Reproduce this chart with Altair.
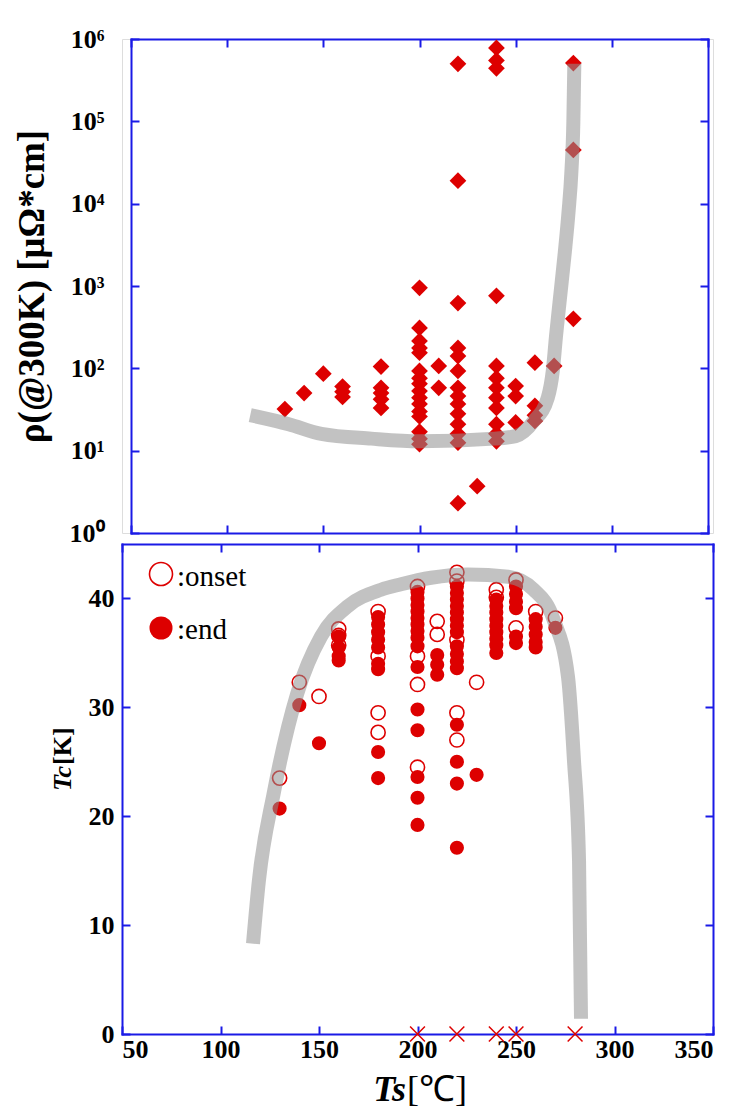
import altair as alt
import pandas as pd

RED = "#dd0000"
BLUE = "#1a1ae6"
SERIF = "Liberation Serif"

# --- resistivity at 300 K versus substrate temperature ---------------------
rho_ts = [130, 140, 150,
          160, 160, 160,
          180, 180, 180, 180, 180,
          200, 200, 200, 200, 200, 200, 200, 200, 200, 200, 200, 200, 200, 200, 200, 200,
          210, 210,
          220, 220, 220, 220, 220, 220, 220, 220, 220, 220, 220, 220, 220, 220,
          230,
          240, 240, 240, 240, 240, 240, 240, 240, 240, 240, 240, 240,
          250, 250, 250,
          260, 260, 260, 260,
          270,
          280, 280, 280]
rho_val = [32, 50, 86,
           60, 52, 45,
           105, 58, 50, 42, 33,
           950, 310, 215, 177, 155, 93, 76, 65, 53, 44, 37, 30, 26, 17, 14, 12,
           107, 58,
           500000, 19000, 620, 177, 141, 93, 58, 46, 37, 28, 21, 16, 12.5, 2.3,
           3.7,
           780000, 550000, 440000, 760, 107, 76, 58, 44, 33, 21, 16, 13,
           61, 46, 22,
           117, 35, 27, 23,
           107,
           510000, 45000, 400]

# guide-to-the-eye trend for the resistivity
rho_curve_ts = [112, 132, 149, 175, 200, 239, 250, 259.5, 266.7, 269.3, 271,
                273, 275.5, 277.5, 279, 280, 280.5]
rho_curve_val = [27, 21, 16, 14, 13, 14, 15, 23, 44, 93, 250,
                 700, 2500, 8000, 25000, 100000, 500000]

# --- superconducting transition temperatures --------------------------------
onset_ts = [130, 140, 150, 160, 160, 160, 180, 180, 180, 180,
            200, 200, 200, 200, 210, 210, 220, 220, 220, 220, 220,
            230, 240, 240, 250, 250, 260, 270]
onset_tc = [23.5, 32.3, 31.0, 37.2, 36.6, 35.7, 38.8, 34.7, 29.5, 27.7,
            41.1, 34.7, 32.1, 24.5, 37.9, 36.7, 42.4, 41.6, 36.2, 29.5, 27.0,
            32.3, 40.8, 40.1, 41.7, 37.3, 38.8, 38.2]

end_ts = [130, 140, 150,
          160, 160, 160, 160,
          180, 180, 180, 180, 180, 180, 180, 180, 180,
          200, 200, 200, 200, 200, 200, 200, 200, 200, 200, 200, 200, 200, 200, 200,
          210, 210, 210,
          220, 220, 220, 220, 220, 220, 220, 220, 220, 220, 220, 220, 220, 220, 220, 220,
          230,
          240, 240, 240, 240, 240, 240, 240, 240, 240,
          250, 250, 250, 250, 250, 250,
          260, 260, 260, 260, 260,
          270]
end_tc = [20.7, 30.2, 26.7,
          36.5, 35.5, 34.7, 34.3,
          38.3, 37.6, 36.9, 36.2, 35.5, 34.0, 33.5, 25.9, 23.5,
          40.6, 40.0, 39.4, 38.8, 38.2, 37.6, 37.0, 36.4, 35.6, 33.7, 29.8, 27.9, 23.6, 21.7, 19.2,
          34.8, 33.9, 33.0,
          41.1, 40.5, 39.9, 39.3, 38.7, 38.1, 37.5, 36.9, 35.6, 34.9, 34.2, 33.6, 28.4, 25.0, 23.0, 17.1,
          23.8,
          39.9, 39.3, 38.7, 38.1, 37.5, 36.9, 36.3, 35.7, 35.0,
          41.1, 40.4, 39.7, 39.1, 36.5, 35.9,
          38.1, 37.4, 36.7, 36.0, 35.5,
          37.3]

# films without a superconducting transition
none_ts = [200, 220, 240, 250, 280]
none_tc = [0, 0, 0, 0, 0]

tc_curve_ts = [116.5, 119.5, 127, 139, 151, 164.7, 181.5, 191.6, 206.9, 225.6,
               246, 259, 269, 276.4, 279.4, 282, 283]
tc_curve = [8.3, 14.1, 22.1, 31.3, 36.5, 39.3, 40.8, 41.3, 41.9, 42.2,
            42.0, 40.8, 38.1, 32.8, 25.2, 15.9, 1.4]

ts_ticks = [50, 100, 150, 200, 250, 300, 350]
rho_ticks = [1, 10, 100, 1000, 10000, 100000, 1000000]
tc_ticks = [0, 10, 20, 30, 40]

rho_df = pd.DataFrame({"Ts": rho_ts, "rho": rho_val})
rho_curve_df = pd.DataFrame({"Ts": rho_curve_ts, "rho": rho_curve_val})
onset_df = pd.DataFrame({"Ts": onset_ts, "Tc": onset_tc})
end_df = pd.DataFrame({"Ts": end_ts, "Tc": end_tc})
none_df = pd.DataFrame({"Ts": none_ts, "Tc": none_tc})
tc_curve_df = pd.DataFrame({"Ts": tc_curve_ts, "Tc": tc_curve})
one = pd.DataFrame({"k": [0]})

W = 591
H_TOP = 494
H_BOT = 490
INWARD = alt.ExprRef(expr="-8")
LABEL_SIZE = 26


def frame_axis(orient, values, labels=False, offset=0, **kw):
    return alt.Axis(orient=orient, values=values, labels=labels, title=None,
                    grid=False, offset=offset, domainColor=BLUE, domainWidth=2,
                    domainCap="square", tickColor=BLUE, tickWidth=2,
                    tickSize=INWARD, labelFont=SERIF, labelFontWeight="bold",
                    labelFontSize=LABEL_SIZE, labelColor="black", **kw)


# ---------------- upper panel: resistivity ----------------
x_top = alt.Scale(domain=[50, 350], range=[9, 586], nice=False, zero=False)
y_top = alt.Scale(type="log", domain=[1, 1000000], nice=False)

sup = "['\u2070','\u00b9','\u00b2','\u00b3','\u2074','\u2075','\u2076']"
rho_axis = alt.Axis(orient="left", values=rho_ticks, title="\u03c1(@300K) [\u03bc\u03a9*cm]",
                    grid=False, offset=-9, domainColor=BLUE, domainWidth=2,
                    domainCap="square", tickColor=BLUE, tickWidth=2, tickSize=INWARD,
                    labelFont=SERIF, labelFontWeight="bold", labelFontSize=LABEL_SIZE,
                    labelColor="black", labelPadding=35,
                    labelExpr="'10' + " + sup + "[round(log(datum.value)/LN10)]",
                    titleFont=SERIF, titleFontWeight="bold", titleFontSize=37,
                    titleColor="black", titlePadding=18)

rho_points = alt.Chart(rho_df).mark_point(
    shape="diamond", filled=True, size=280, color=RED, opacity=1
).encode(
    x=alt.X("Ts:Q", scale=x_top, axis=frame_axis("bottom", ts_ticks)),
    y=alt.Y("rho:Q", scale=y_top, axis=rho_axis),
)

rho_trend = alt.Chart(rho_curve_df).mark_line(
    color="#8f8f8f", opacity=0.55, strokeWidth=14, interpolate="monotone",
    strokeCap="butt"
).encode(
    x=alt.X("Ts:Q", scale=x_top, axis=frame_axis("top", ts_ticks)),
    y=alt.Y("rho:Q", scale=y_top, axis=frame_axis("right", rho_ticks, offset=-5)),
)

top = alt.layer(rho_points, rho_trend).resolve_axis(
    x="independent", y="independent"
).properties(width=W, height=H_TOP)

# ---------------- lower panel: Tc ----------------
x_bot = alt.Scale(domain=[50, 350], nice=False, zero=False)
y_bot = alt.Scale(domain=[0, 45], nice=False, zero=False)

onset = alt.Chart(onset_df).mark_point(
    shape="circle", filled=False, size=200, strokeWidth=1.6, color=RED, opacity=1
).encode(
    x=alt.X("Ts:Q", scale=x_bot,
            axis=frame_axis("bottom", ts_ticks, labels=True, labelPadding=10)),
    y=alt.Y("Tc:Q", scale=y_bot,
            axis=frame_axis("left", tc_ticks, labels=True, labelPadding=16)),
)

end = alt.Chart(end_df).mark_point(
    shape="circle", filled=True, size=200, color=RED, opacity=1
).encode(
    x=alt.X("Ts:Q", scale=x_bot, axis=None),
    y=alt.Y("Tc:Q", scale=y_bot, axis=None),
)

none = alt.Chart(none_df).mark_point(
    shape="M-1,-1L1,1M-1,1L1,-1", filled=False, size=220, strokeWidth=1.5,
    color=RED, opacity=1
).encode(
    x=alt.X("Ts:Q", scale=x_bot, axis=None),
    y=alt.Y("Tc:Q", scale=y_bot, axis=None),
)

tc_trend = alt.Chart(tc_curve_df).mark_line(
    color="#8f8f8f", opacity=0.55, strokeWidth=14, interpolate="monotone",
    strokeCap="butt"
).encode(
    x=alt.X("Ts:Q", scale=x_bot, axis=frame_axis("top", ts_ticks)),
    y=alt.Y("Tc:Q", scale=y_bot, axis=frame_axis("right", tc_ticks)),
)

# legend drawn inside the panel
leg_onset = alt.Chart(one).mark_point(
    shape="circle", filled=False, size=530, strokeWidth=1.6, color=RED, opacity=1
).encode(x=alt.value(39), y=alt.value(30))
leg_end = alt.Chart(one).mark_point(
    shape="circle", filled=True, size=530, color=RED, opacity=1
).encode(x=alt.value(39), y=alt.value(84))
leg_onset_txt = alt.Chart(one).mark_text(
    text=":onset", font=SERIF, fontSize=29, align="left", baseline="alphabetic",
    color="black"
).encode(x=alt.value(55), y=alt.value(42))
leg_end_txt = alt.Chart(one).mark_text(
    text=":end", font=SERIF, fontSize=29, align="left", baseline="alphabetic",
    color="black"
).encode(x=alt.value(55), y=alt.value(95))

# axis titles with mixed styling
ts_a = alt.Chart(one).mark_text(
    text="Ts", font=SERIF, fontSize=36, fontWeight="bold", fontStyle="italic",
    align="right", baseline="alphabetic", color="black"
).encode(x=alt.value(284), y=alt.value(557))
ts_b = alt.Chart(one).mark_text(
    text="[\u2103]", font=SERIF, fontSize=36, align="left", baseline="alphabetic",
    color="black"
).encode(x=alt.value(285), y=alt.value(557))
tc_a = alt.Chart(one).mark_text(
    text="Tc", font=SERIF, fontSize=26, fontWeight="bold", fontStyle="italic",
    angle=270, align="right", baseline="alphabetic", color="black"
).encode(x=alt.value(-51), y=alt.value(222))
tc_b = alt.Chart(one).mark_text(
    text="[K]", font=SERIF, fontSize=26, fontWeight="bold",
    angle=270, align="left", baseline="alphabetic", color="black"
).encode(x=alt.value(-51), y=alt.value(221))

bottom = alt.layer(
    onset, end, none, tc_trend,
    leg_onset, leg_end, leg_onset_txt, leg_end_txt,
    ts_a, ts_b, tc_a, tc_b,
).resolve_axis(
    x="independent", y="independent"
).properties(width=W, height=H_BOT)

chart = alt.vconcat(top, bottom, spacing=11, bounds="flush").properties(
    padding={"left": 12, "top": 25, "right": 5, "bottom": 5}
).configure_view(strokeWidth=0).configure(background="white")

chart.save("out.html", embed_options={"renderer": "svg", "actions": False})
